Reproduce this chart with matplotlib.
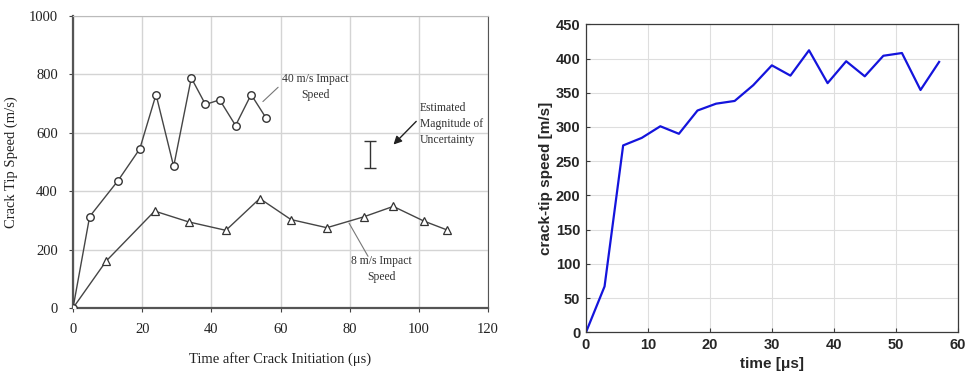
import numpy as np
import matplotlib.pyplot as plt

# 40 m/s impact (circles)
t_fast = [0, 4.8, 13.0, 19.3, 24.0, 29.1, 34.2, 38.3, 42.4, 47.0, 51.5, 55.8]
v_fast = [0, 313, 436, 545, 731, 485, 788, 697, 713, 625, 731, 651]

# 8 m/s impact (triangles)
t_slow = [0, 9.6, 23.6, 33.4, 44.2, 54.0, 63.0, 73.4, 84.0, 92.6, 101.4, 108.0]
v_slow = [0, 161, 332, 295, 266, 375, 303, 275, 312, 348, 298, 268]

# uncertainty bar
err_x = 85.8
err_lo, err_hi = 480, 573

# simulated crack-tip speed
t_sim = [0, 3, 6, 9, 12, 15, 18, 21, 24, 27, 30, 33, 36, 39, 42, 45, 48, 51, 54, 57]
v_sim = [0, 67, 273, 284, 301, 290, 324, 334, 338, 361, 390, 375, 412, 364,
         396, 374, 404, 408, 354, 395]

fig = plt.figure(figsize=(9.66, 3.77), dpi=100)

#Left panel: experiment
serif = ['Liberation Serif', 'DejaVu Serif']
ax1 = fig.add_axes([0.0756, 0.183, 0.4296, 0.7745])
ax1.plot(t_slow, v_slow, '-^', color='#454545', lw=1.0, ms=5.7,
         mfc='white', mec='#333333', mew=0.9, zorder=3)
ax1.plot(t_fast, v_fast, '-o', color='#454545', lw=1.0, ms=5.4,
         mfc='white', mec='#333333', mew=1.0, zorder=4)
ax1.errorbar([err_x], [(err_lo + err_hi) / 2], yerr=[[(err_hi - err_lo) / 2]],
             color='#333333', lw=1.0, capsize=4.5, capthick=1.0, zorder=3)

ax1.set_xlim(0, 120)
ax1.set_ylim(0, 1000)
ax1.set_xticks(np.arange(0, 121, 20))
ax1.set_yticks(np.arange(0, 1001, 200))
ax1.grid(True, color='#d4d4d4', lw=1.0)
ax1.set_axisbelow(True)
for s in ax1.spines.values():
    s.set_color('#555555')
ax1.spines['left'].set_linewidth(1.6)
ax1.spines['bottom'].set_linewidth(1.6)
ax1.spines['top'].set_color('#bbbbbb')
ax1.tick_params(direction='out', length=3, color='#444444', labelsize=10.5,
                labelcolor='#222222', pad=8)
for lab in ax1.get_xticklabels() + ax1.get_yticklabels():
    lab.set_family(serif)
ax1.set_xlabel('Time after Crack Initiation (μs)', family=serif, fontsize=10.5,
               color='#222222', labelpad=11)
ax1.set_ylabel('Crack Tip Speed (m/s)', family=serif, fontsize=10.5,
               color='#222222', labelpad=8)

# callouts
note = dict(family=serif, fontsize=8.4, color='#333333', linespacing=1.45)
lead = dict(arrowstyle='-', color='#777777', lw=0.8, shrinkA=0, shrinkB=0)
ax1.annotate('', xy=(54.9, 707), xytext=(59.3, 756), arrowprops=lead)
ax1.text(70.2, 758, '40 m/s Impact\nSpeed', ha='center', va='center', **note)
ax1.annotate('', xy=(79.8, 291), xytext=(85.3, 177), arrowprops=lead)
ax1.text(89.2, 133, '8 m/s Impact\nSpeed', ha='center', va='center', **note)
ax1.annotate('', xy=(92.1, 553), xytext=(99.8, 646),
             arrowprops=dict(arrowstyle='-|>', color='#222222', lw=1.0,
                             mutation_scale=12))
ax1.text(100.2, 630, 'Estimated\nMagnitude of\nUncertainty', ha='left', va='center',
         **note)

#Right panel: simulation
sans = ['Liberation Sans', 'DejaVu Sans']
ax2 = fig.add_axes([0.6066, 0.1186, 0.3848, 0.817])
ax2.plot(t_sim, v_sim, color='#1414dc', lw=1.6)
ax2.set_xlim(0, 60)
ax2.set_ylim(0, 450)
ax2.set_xticks(np.arange(0, 61, 10))
ax2.set_yticks(np.arange(0, 451, 50))
ax2.grid(True, color='#dedede', lw=0.8)
ax2.set_axisbelow(True)
for s in ax2.spines.values():
    s.set_color('#3a3a3a')
    s.set_linewidth(0.9)
ax2.tick_params(direction='in', length=3, color='#3a3a3a', labelsize=10.5,
                labelcolor='#262626', pad=4)
for lab in ax2.get_xticklabels() + ax2.get_yticklabels():
    lab.set_family(sans)
    lab.set_fontweight('bold')
ax2.set_xlabel('time [μs]', family=sans, fontweight='bold', fontsize=11,
               color='#262626', labelpad=4)
ax2.set_ylabel('crack-tip speed [m/s]', family=sans, fontweight='bold', fontsize=11,
               color='#262626', labelpad=2)

plt.savefig('out.png', dpi=100)
